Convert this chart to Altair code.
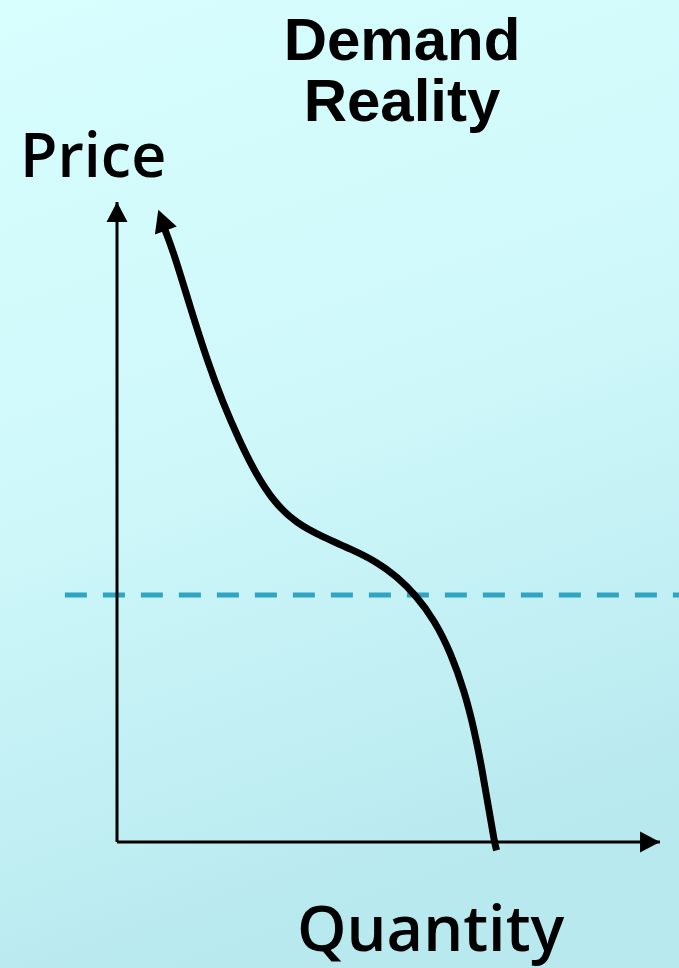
import altair as alt
import pandas as pd

# Demand curve (quantity, price) in chart units: origin at 0, axes run to 100
quantity = [8.5, 10.5, 13.5, 16.5, 19.5, 22.5, 25.5, 29.0, 33.0, 38.0,
            43.0, 48.0, 51.5, 55.0, 58.5, 61.5, 64.0, 65.8, 67.2, 68.4,
            69.5, 69.9]
price = [96.4, 92.0, 83.5, 75.5, 68.6, 62.8, 57.6, 53.0, 49.8, 47.6,
         45.8, 43.7, 41.5, 38.6, 34.6, 29.5, 23.5, 17.5, 11.5, 5.5,
         0.0, -1.3]

# Tip of the curve's arrow and its heading (degrees, clockwise from up)
curve_tip_q, curve_tip_p, curve_tip_angle = 7.6, 98.8, 340

# Reference price level (dashed line) and its horizontal extent
ref_price = 38.6
ref_q = [-9.6, 106]

W, H = 679, 968
x_scale = alt.Scale(domain=[-21.55, 103.5], nice=False, zero=False)
y_scale = alt.Scale(domain=[-19.69, 131.56], nice=False, zero=False)

curve_df = pd.DataFrame({"q": quantity, "p": price, "i": range(len(quantity))})
axes_df = pd.DataFrame({"q": [0, 0], "p": [0, 0], "q2": [0, 100], "p2": [100, 0]})
heads_df = pd.DataFrame({
    "q": [0, 100, curve_tip_q],
    "p": [100, 0, curve_tip_p],
    "a": [0, 90, curve_tip_angle],
    "s": [440, 440, 540],
})
ref_df = pd.DataFrame({"q": ref_q, "p": [ref_price, ref_price]})

X = lambda f="q": alt.X(f"{f}:Q", scale=x_scale, axis=None)
Y = lambda f="p": alt.Y(f"{f}:Q", scale=y_scale, axis=None)

background = alt.Chart(pd.DataFrame({"k": [0]})).mark_rect(
    fill=alt.LinearGradient(
        gradient="linear", x1=0, y1=0, x2=0.25, y2=1,
        stops=[alt.GradientStop(color="#d8fefe", offset=0),
               alt.GradientStop(color="#cff8fa", offset=0.5),
               alt.GradientStop(color="#b8e9ef", offset=1)],
    ),
    stroke=None,
).encode(x=alt.value(0), x2=alt.value(W), y=alt.value(0), y2=alt.value(H))

axes = alt.Chart(axes_df).mark_rule(color="black", strokeWidth=3).encode(
    x=X(), y=Y(), x2="q2:Q", y2="p2:Q"
)

ref_line = alt.Chart(ref_df).mark_line(
    color="#2fa4c3", strokeWidth=5, strokeDash=[22, 16]
).encode(x=X(), y=Y())

curve = alt.Chart(curve_df).mark_line(
    color="black", strokeWidth=7, interpolate="basis"
).encode(x=X(), y=Y(), order="i:Q")

heads = alt.Chart(heads_df).mark_point(
    shape="M0,0L-1,1.9L1,1.9Z", filled=True, color="black", opacity=1
).encode(
    x=X(), y=Y(),
    angle=alt.Angle("a:Q", scale=None),
    size=alt.Size("s:Q", scale=None, legend=None),
)

title = alt.Chart(pd.DataFrame({"t": ["Demand", "Reality"], "y": [60, 121]})).mark_text(
    font="Liberation Sans", fontWeight="bold", fontSize=60, color="black",
    align="center", baseline="alphabetic",
).encode(x=alt.value(402), y=alt.Y("y:Q", scale=None), text="t:N")

price_label = alt.Chart(pd.DataFrame({"t": ["Price"]})).mark_text(
    font="Open Sans", fontWeight=600, fontSize=61, color="black",
    align="left", baseline="alphabetic"
).encode(x=alt.value(20), y=alt.value(177), text="t:N")

qty_label = alt.Chart(pd.DataFrame({"t": ["Quantity"]})).mark_text(
    font="Open Sans", fontWeight=600, fontSize=63, color="black",
    align="left", baseline="alphabetic"
).encode(x=alt.value(297), y=alt.value(951), text="t:N")

chart = alt.layer(
    background, ref_line, axes, curve, heads, title, price_label, qty_label
).properties(
    width=W, height=H, autosize=alt.AutoSizeParams(type="none"), padding=0
).configure_view(stroke=None)

chart.save("out.html", embed_options={"renderer": "svg", "actions": False})
